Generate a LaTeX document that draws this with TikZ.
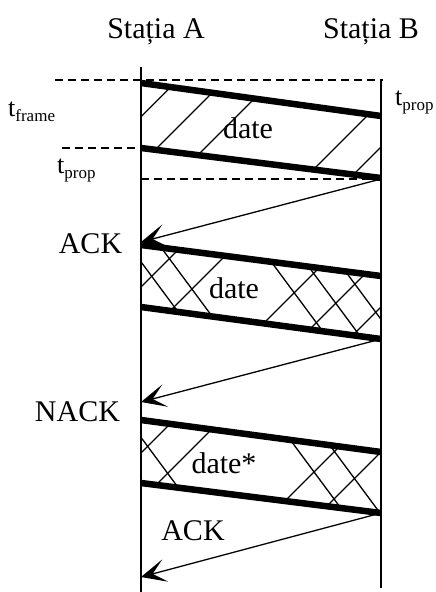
\documentclass[tikz,border=0pt]{standalone}
\usepackage{fontspec}
\setmainfont{Liberation Serif}
\usetikzlibrary{arrows.meta}
\newcommand\mytsub[1]{{\fontsize{26}{26}\selectfont t}\raisebox{-5pt}{\fontsize{17}{17}\selectfont #1}}
\begin{document}
\begin{tikzpicture}[x=1pt,y=-1pt,
  big/.style={font=\fontsize{30}{30}\selectfont, inner sep=0pt, anchor=base},
  tlab/.style={inner sep=0pt, anchor=base west},
  axis/.style={line width=1.5pt},
  pkt/.style={line width=6.5pt, line cap=butt},
  guide/.style={line width=1.3pt, dash pattern=on 8pt off 5pt},
  hatch/.style={line width=1.3pt},
  reply/.style={line width=1.3pt, -{Stealth[length=25pt,width=23pt,inset=13pt]}}
]
\useasboundingbox (0,0) rectangle (436,592);

% coordinates
\coordinate (Atop) at (141,67);
\coordinate (Abot) at (141,592);
\coordinate (Btop) at (381,80);
\coordinate (Bbot) at (381,588);
\coordinate (G1a) at (55,80);
\coordinate (G1b) at (383,80);
\coordinate (G2a) at (62,148);
\coordinate (G2b) at (141,148);
\coordinate (G3a) at (141,179);
\coordinate (G3b) at (381,179);

\coordinate (a1) at (141,83);  \coordinate (b1) at (381,116);
\coordinate (a2) at (141,148); \coordinate (b2) at (381,178);
\coordinate (r1) at (141,242);
\coordinate (a3) at (141,245); \coordinate (b3) at (381,276);
\coordinate (a4) at (141,307); \coordinate (b4) at (381,339);
\coordinate (r2) at (141,402);
\coordinate (a5) at (141,420); \coordinate (b5) at (381,452);
\coordinate (a6) at (141,483); \coordinate (b6) at (381,513);
\coordinate (r3) at (141,577);

% hatching band 1
\begin{scope}
\clip (a1) -- (b1) -- (b2) -- (a2) -- cycle;
\foreach \c in {257.7,305,353,483,528}
  \draw[hatch] (100,{\c-100}) -- (420,{\c-420});
\end{scope}
% hatching band 2
\begin{scope}
\clip (a3) -- (b3) -- (b4) -- (a4) -- cycle;
\foreach \c in {428,481,587,639,688}
  \draw[hatch] (100,{\c-100}) -- (420,{\c-420});
\foreach \c in {71.5,30,-104.4,-150,-195}
  \draw[hatch] (100,{1.35*100+\c}) -- (420,{1.35*420+\c});
\end{scope}
% hatching band 3
\begin{scope}
\clip (a5) -- (b5) -- (b6) -- (a6) -- cycle;
\foreach \c in {594,641,786,833}
  \draw[hatch] (100,{\c-100}) -- (420,{\c-420});
\foreach \c in {247,48,0}
  \draw[hatch] (100,{1.35*100+\c}) -- (420,{1.35*420+\c});
\end{scope}

% time axes
\draw[axis] (Atop) -- (Abot);
\draw[axis] (Btop) -- (Bbot);

% guides
\draw[guide] (G1a) -- (G1b);
\draw[guide] (G2a) -- (G2b);
\draw[guide] (G3a) -- (G3b);

% frames
\draw[pkt] (a1) -- (b1);
\draw[pkt] (a2) -- (b2);
\draw[pkt] (a3) -- (b3);
\draw[pkt] (a4) -- (b4);
\draw[pkt] (a5) -- (b5);
\draw[pkt] (a6) -- (b6);

% replies
\draw[reply] (G3b) -- (r1);
\draw[reply] (b4) -- (r2);
\draw[reply] (b6) -- (r3);

% labels
\node[big] (sa) at (156,38) {Stația A};
\node[big] (sb) at (371,38) {Stația B};
\node[big] (d1) at (248,138) {date};
\node[big] (d2) at (234,298) {date};
\node[big] (d3) at (224,473) {date*};
\node[big] (ack1) at (90.5,253) {ACK};
\node[big] (nack) at (77.5,421) {NACK};
\node[big] (ack2) at (193,540) {ACK};
\node[tlab] (tf) at (8,116) {\mytsub{frame}};
\node[tlab] (tp1) at (57,173) {\mytsub{prop}};
\node[tlab] (tp2) at (395,105) {\mytsub{prop}};
\end{tikzpicture}
\end{document}
